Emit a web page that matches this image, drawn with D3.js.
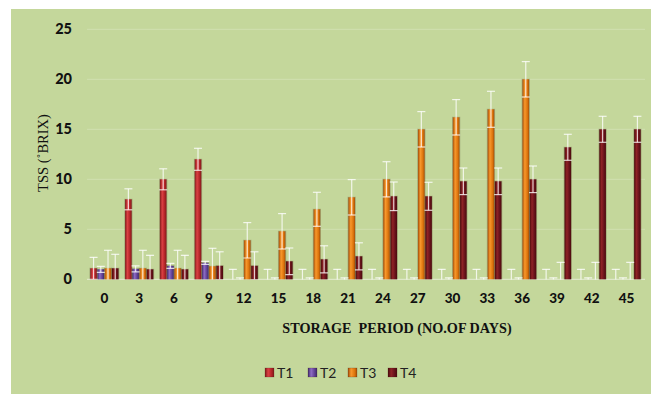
<!DOCTYPE html>
<html><head><meta charset="utf-8">
<script src="https://cdn.jsdelivr.net/npm/d3@7"></script>
<style>body{margin:0;background:#fff}svg{display:block}</style>
</head><body><svg id="c" width="651" height="394"></svg>
<script>
const days = [0,3,6,9,12,15,18,21,24,27,30,33,36,39,42,45];
const seriesNames = ["T1","T2","T3","T4"];
const T1 = [1.1,8.0,10.0,12.0,0,0,0,0,0,0,0,0,0,0,0,0];
const T1err = [1.1,1.05,1.05,1.1,1.0,1.0,1.0,1.0,1.0,1.0,1.0,1.0,1.0,1.0,1.0,1.0];
const T2 = [1.0,1.05,1.35,1.65,0,0,0,0,0,0,0,0,0,0,0,0];
const T2err = [0.3,0.3,0.25,0.15,0.15,0.15,0.15,0.15,0.15,0.15,0.15,0.15,0.15,0.15,0.15,0.15];
const T3 = [1.1,1.1,1.1,1.3,3.9,4.8,7.0,8.2,10.0,15.0,16.2,17.0,20.0,0,0,0];
const T3err = [1.8,1.8,1.8,1.8,1.77,1.77,1.7,1.77,1.76,1.77,1.77,1.8,1.77,1.7,1.7,1.7];
const T4 = [1.1,1.0,1.0,1.35,1.35,1.8,2.0,2.3,8.3,8.3,9.8,9.8,10.0,13.2,15.0,15.0];
const T4err = [1.4,1.4,1.4,1.4,1.4,1.33,1.35,1.35,1.43,1.4,1.33,1.33,1.33,1.3,1.3,1.3];
const yTicks = [0,5,10,15,20,25];
const colors = {T1:["#7e1a1a","#dc4043","#b02327"],T2:["#3f2a6a","#8e6cc4","#5e3f92"],T3:["#a44e08","#f8982c","#dc740c"],T4:["#4a0a0c","#8f2226","#64111a"]};

const values = {T1,T2,T3,T4};
const errs = {T1:T1err,T2:T2err,T3:T3err,T4:T4err};
const svg = d3.select("#c");
svg.append("rect").attr("x",11).attr("y",9).attr("width",640).attr("height",385).attr("fill","#c4d79b");

const defs = svg.append("defs");
seriesNames.forEach(s=>{
  const g = defs.append("linearGradient").attr("id","g"+s).attr("x1","0").attr("x2","1").attr("y1","0").attr("y2","0");
  g.append("stop").attr("offset","0").attr("stop-color",colors[s][0]);
  g.append("stop").attr("offset","0.35").attr("stop-color",colors[s][1]);
  g.append("stop").attr("offset","0.75").attr("stop-color",colors[s][2]);
  g.append("stop").attr("offset","1").attr("stop-color",colors[s][0]);
});
defs.append("clipPath").attr("id","clip").append("rect").attr("x",80).attr("y",0).attr("width",571).attr("height",279.5);

const x0 = d3.scaleBand().domain(days).range([87,644]).paddingInner(0.17).paddingOuter(0.085);
const x1 = d3.scaleBand().domain(seriesNames).range([0,x0.bandwidth()]);
const y = d3.scaleLinear().domain([0,25]).range([279.3,29.3]);

// gridlines
svg.append("g").selectAll("line").data(yTicks).join("line")
  .attr("x1",87).attr("x2",645).attr("y1",d=>y(d)).attr("y2",d=>y(d))
  .attr("stroke",d=>d===0?"rgba(255,255,255,0.55)":"rgba(255,255,255,0.22)").attr("stroke-width",1);

// y axis labels
const yAxis = d3.axisLeft(y).tickValues(yTicks).tickSize(0).tickPadding(0);
const ya = svg.append("g").attr("transform","translate(72,0)").call(yAxis);
ya.select(".domain").remove();
ya.selectAll("text").attr("font-family","Lato, sans-serif").attr("font-weight","900").attr("font-size",14.5).attr("fill","#111");

// x axis labels
const xAxis = d3.axisBottom(x0).tickSize(0).tickPadding(0);
const xa = svg.append("g").attr("transform","translate(0,293)").call(xAxis);
xa.select(".domain").remove();
xa.selectAll("text").attr("font-family","Lato, sans-serif").attr("font-weight","900").attr("font-size",13.5).attr("fill","#111");

// bars
const rows = [];
days.forEach((d,i)=>seriesNames.forEach(s=>rows.push({day:d,s,v:values[s][i],e:errs[s][i]})));
const bw = x1.bandwidth();
const bars = svg.append("g");
bars.selectAll("rect.sh").data(rows.filter(r=>r.v>0)).join("rect").attr("class","sh")
  .attr("x",r=>x0(r.day)+x1(r.s)-0.5).attr("y",r=>y(r.v)-0.5).attr("width",bw+1).attr("height",r=>y(0)-y(r.v)+0.5)
  .attr("fill","rgba(60,40,20,0.25)");
bars.selectAll("rect.b").data(rows.filter(r=>r.v>0)).join("rect").attr("class","b")
  .attr("x",r=>x0(r.day)+x1(r.s)+0.3).attr("y",r=>y(r.v)).attr("width",bw-0.6).attr("height",r=>y(0)-y(r.v))
  .attr("fill",r=>"url(#g"+r.s+")");

// error bars
const eb = svg.append("g").attr("clip-path","url(#clip)").attr("stroke","rgba(255,255,255,0.78)").attr("stroke-width",1.2);
const cx = r=>x0(r.day)+x1(r.s)+bw/2;
eb.selectAll("line.v").data(rows).join("line").attr("class","v")
  .attr("x1",cx).attr("x2",cx).attr("y1",r=>y(r.v+r.e)).attr("y2",r=>y(r.v-r.e));
eb.selectAll("line.t").data(rows).join("line").attr("class","t")
  .attr("x1",r=>cx(r)-4).attr("x2",r=>cx(r)+4).attr("y1",r=>y(r.v+r.e)).attr("y2",r=>y(r.v+r.e));
eb.selectAll("line.bt").data(rows).join("line").attr("class","bt")
  .attr("x1",r=>cx(r)-4).attr("x2",r=>cx(r)+4).attr("y1",r=>y(r.v-r.e)).attr("y2",r=>y(r.v-r.e));

// titles
svg.append("text").attr("transform","translate(48,153) rotate(-90)").attr("text-anchor","middle")
  .attr("font-family","'Liberation Serif', serif").attr("font-size",14.5).attr("fill","#111").text("TSS (˚BRIX)");
svg.append("text").attr("x",397).attr("y",333).attr("text-anchor","middle").attr("xml:space","preserve").style("white-space","pre")
  .attr("font-family","'Liberation Serif', serif").attr("font-weight","bold").attr("font-size",14.2).attr("fill","#111").text("STORAGE  PERIOD (NO.OF DAYS)");

// legend
const lg = svg.append("g");
const lx = d3.scaleOrdinal().domain(seriesNames).range([265,308,348,388]);
lg.selectAll("rect").data(seriesNames).join("rect").attr("x",s=>lx(s)).attr("y",368).attr("width",9).attr("height",9)
  .attr("fill",s=>"url(#g"+s+")").attr("stroke","rgba(60,20,20,0.35)").attr("stroke-width",0.6);
lg.selectAll("text").data(seriesNames).join("text").attr("x",s=>lx(s)+12).attr("y",377.5)
  .attr("font-family","Lato, sans-serif").attr("font-size",14).attr("fill","#222").text(s=>s);
</script></body></html>
